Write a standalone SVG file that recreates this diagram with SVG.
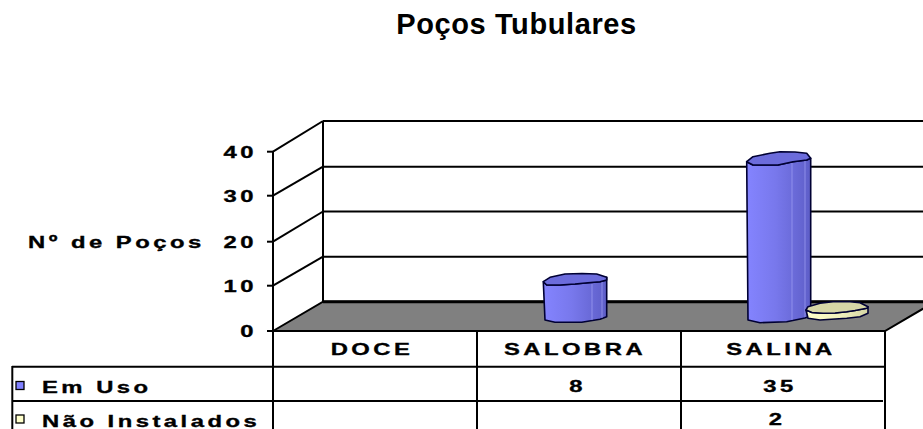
<svg xmlns="http://www.w3.org/2000/svg" width="923" height="429" viewBox="0 0 923 429">
<defs>
<style>
.t{font-family:"Liberation Sans",Arial,sans-serif;font-weight:bold;fill:#000}
.lbl{font-size:17px;letter-spacing:2.5px;stroke:#000;stroke-width:0.35}
.ln{stroke:#000;stroke-width:2;fill:none}
.bar{stroke:#000033;stroke-width:1.6;stroke-linejoin:round}
</style>
<linearGradient id="gb" x1="0" y1="0" x2="1" y2="0">
<stop offset="0" stop-color="#8484FF"/><stop offset="0.45" stop-color="#7878EC"/><stop offset="0.75" stop-color="#6A6AD8"/><stop offset="1" stop-color="#5E5EC8"/>
</linearGradient>
<linearGradient id="gy" x1="0" y1="0" x2="1" y2="0">
<stop offset="0" stop-color="#FFFFCC"/><stop offset="0.6" stop-color="#EEEEBB"/><stop offset="1" stop-color="#D4D4A4"/>
</linearGradient>
</defs>
<rect width="923" height="429" fill="#fff"/>
<g id="title"><text class="t" x="516.5" y="34" font-size="29" text-anchor="middle" letter-spacing="0.6">Poços Tubulares</text></g>
<g id="walls">
<polygon points="273,331 323,301.7 935,301.7 885,331" fill="#808080" stroke="#000" stroke-width="2"/>
<line class="ln" x1="323" y1="121" x2="923" y2="121"/>
<line class="ln" x1="323" y1="166.7" x2="923" y2="166.7"/>
<line class="ln" x1="323" y1="211.5" x2="923" y2="211.5"/>
<line class="ln" x1="323" y1="256.7" x2="923" y2="256.7"/>
<line x1="323" y1="301.7" x2="923" y2="301.7" stroke="#000" stroke-width="3"/>
<line class="ln" x1="323" y1="121" x2="323" y2="301.7"/>
<line class="ln" x1="273" y1="151.7" x2="323" y2="121"/>
<line class="ln" x1="273" y1="195.7" x2="323" y2="166.7"/>
<line class="ln" x1="273" y1="241.7" x2="323" y2="211.5"/>
<line class="ln" x1="273" y1="285.7" x2="323" y2="256.7"/>
</g>
<g id="axis">
<line class="ln" x1="273" y1="151" x2="273" y2="429"/>
<line class="ln" x1="267" y1="151.7" x2="273" y2="151.7"/>
<line class="ln" x1="267" y1="195.7" x2="273" y2="195.7"/>
<line class="ln" x1="267" y1="241.7" x2="273" y2="241.7"/>
<line class="ln" x1="267" y1="285.7" x2="273" y2="285.7"/>
<line class="ln" x1="267" y1="331" x2="273" y2="331"/>
<text class="t lbl" text-anchor="end" transform="translate(257,158) scale(1.4,1)">40</text>
<text class="t lbl" text-anchor="end" transform="translate(257,202) scale(1.4,1)">30</text>
<text class="t lbl" text-anchor="end" transform="translate(257,248) scale(1.4,1)">20</text>
<text class="t lbl" text-anchor="end" transform="translate(257,292) scale(1.4,1)">10</text>
<text class="t lbl" text-anchor="end" transform="translate(257,337) scale(1.4,1)">0</text>
<text class="t lbl" transform="translate(28,248) scale(1.4,1)">Nº de Poços</text>
</g>
<g id="bar-salobra-em-uso">
<path class="bar" fill="url(#gb)" d="M543.3,281.7 L545,320 L555,322.3 L581.7,322.3 L600,319.3 L606.7,316.7 L606.7,277.3 L606.7,280 L600,281.7 L588,282.7 L575,284 L560,285 L546.7,285 Z"/>
<line x1="592" y1="284" x2="592" y2="320" stroke="#9A9AF0" stroke-width="0.8"/>
<line x1="602" y1="282" x2="602" y2="318" stroke="#9A9AF0" stroke-width="0.8"/>
<path class="bar" fill="#6C6CDC" d="M543.3,281.7 L550,277.3 L565,274 L582,273.5 L596.7,274 L606.7,277.3 L606.7,280 L600,281.7 L588,282.7 L575,284 L560,285 L546.7,285 Z"/>
</g>
<g id="bar-salina-em-uso">
<path class="bar" fill="url(#gb)" d="M746.7,161.7 L748,320 L760,322.7 L786.7,321.7 L805,318 L810.7,316 L810.7,158.3 L806.7,160 L793,161.7 L778,165 L753,165 Z"/>
<line x1="792" y1="163" x2="792" y2="320" stroke="#9A9AF0" stroke-width="0.8"/>
<line x1="805" y1="161" x2="805" y2="317" stroke="#9A9AF0" stroke-width="0.8"/>
<path class="bar" fill="#6C6CDC" d="M746.7,161.7 L753,156.7 L770,153.3 L780,151.7 L795,152 L806.7,153.3 L810.7,158.3 L806.7,160 L793,161.7 L778,165 L753,165 Z"/>
</g>
<g id="bar-salina-nao-instalados">
<path class="bar" fill="url(#gy)" d="M806,310 L808,318.3 L820,320 L846.7,318.3 L860,316.7 L868,313.3 L868,306.7 L866.7,308.3 L855,310.5 L846.7,311.7 L835,313 L823,313.3 L812,312.5 Z"/>
<path class="bar" fill="#D6D6A6" d="M806,310 L808,306.7 L820,303.3 L833,301.7 L850,301.7 L860,302.7 L868,306.7 L866.7,308.3 L855,310.5 L846.7,311.7 L835,313 L823,313.3 L812,312.5 Z"/>
</g>
<g id="data-table">
<line class="ln" x1="12" y1="366.7" x2="885" y2="366.7"/>
<line class="ln" x1="12" y1="401" x2="883" y2="401"/>
<line class="ln" x1="12.3" y1="366" x2="12.3" y2="429"/>
<line class="ln" x1="477" y1="331" x2="477" y2="429"/>
<line class="ln" x1="681" y1="331" x2="681" y2="429"/>
<line class="ln" x1="885" y1="331" x2="885" y2="429"/>
<text class="t lbl" text-anchor="middle" transform="translate(372,355) scale(1.4,1)">DOCE</text>
<text class="t lbl" text-anchor="middle" transform="translate(575,355) scale(1.4,1)">SALOBRA</text>
<text class="t lbl" text-anchor="middle" transform="translate(781,355) scale(1.4,1)">SALINA</text>
<rect x="16" y="381.5" width="8" height="8" fill="#8080FF" stroke="#000" stroke-width="1.3"/>
<text class="t lbl" transform="translate(42,393.3) scale(1.4,1)">Em Uso</text>
<rect x="16" y="415" width="8" height="8" fill="#FFFFCC" stroke="#000" stroke-width="1.3"/>
<text class="t lbl" transform="translate(42,426.5) scale(1.4,1)">Não Instalados</text>
<text class="t lbl" text-anchor="middle" transform="translate(577.5,391.7) scale(1.4,1)">8</text>
<text class="t lbl" text-anchor="middle" transform="translate(780,391.7) scale(1.4,1)">35</text>
<text class="t lbl" text-anchor="middle" transform="translate(777,425) scale(1.4,1)">2</text>
</g>
<g id="connectors"/>
</svg>
